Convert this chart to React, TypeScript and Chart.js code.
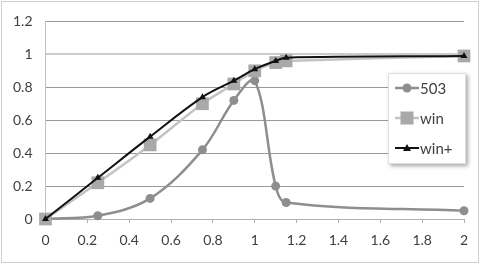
import React, { useEffect, useRef } from "react";
import { Chart, registerables } from "chart.js";

Chart.register(...registerables);

const xValues = [0, 0.25, 0.5, 0.75, 0.9, 1, 1.1, 1.15, 2];
const series503 = [0, 0.02, 0.125, 0.42, 0.72, 0.84, 0.2, 0.1, 0.05];
const seriesWin = [0, 0.22, 0.45, 0.7, 0.82, 0.9, 0.95, 0.96, 0.99];
const seriesWinPlus = [0, 0.25, 0.5, 0.74, 0.84, 0.91, 0.96, 0.98, 0.99];
const seriesNames = ["503", "win", "win+"];

const FONT = "Lato, 'Open Sans', sans-serif";

const toPoints = (ys: number[]) => xValues.map((x, i) => ({ x, y: ys[i] }));

const styles = [
  { line: "#8e8e8e", fill: "#8e8e8e", point: "circle", radius: 4.5, width: 2.5 },
  { line: "#c4c4c4", fill: "#a9a9a9", point: "rect", radius: 9, width: 2.5 },
  { line: "#111111", fill: "#111111", point: "triangle", radius: 4, width: 2 },
];

const framePlugin = {
  id: "frame",
  beforeDraw(chart: any) {
    const ctx = chart.ctx;
    ctx.save();
    ctx.fillStyle = "#ffffff";
    ctx.fillRect(0, 0, chart.width, chart.height);
    ctx.strokeStyle = "#d0d0d0";
    ctx.lineWidth = 1;
    ctx.strokeRect(1.5, 1.5, chart.width - 4, chart.height - 4);
    ctx.restore();
  },
};

const legendPlugin = {
  id: "customLegend",
  afterDraw(chart: any) {
    const ctx = chart.ctx;
    const bx = 388, by = 73, bw = 78, bh = 91;
    ctx.save();
    ctx.shadowColor = "rgba(0,0,0,0.35)";
    ctx.shadowBlur = 4;
    ctx.shadowOffsetX = 2;
    ctx.shadowOffsetY = 2;
    ctx.fillStyle = "#ffffff";
    ctx.fillRect(bx, by, bw, bh);
    ctx.restore();
    ctx.save();
    ctx.strokeStyle = "#e0e0e0";
    ctx.lineWidth = 1;
    ctx.strokeRect(bx + 0.5, by + 0.5, bw - 1, bh - 1);
    const rows = [88, 118, 148];
    seriesNames.forEach((name, i) => {
      const st = styles[i];
      const y = rows[i];
      ctx.strokeStyle = st.line;
      ctx.lineWidth = st.width;
      ctx.beginPath();
      ctx.moveTo(395, y);
      ctx.lineTo(419, y);
      ctx.stroke();
      ctx.fillStyle = st.fill;
      const cx = 407;
      if (st.point === "circle") {
        ctx.beginPath();
        ctx.arc(cx, y, 4.5, 0, Math.PI * 2);
        ctx.fill();
      } else if (st.point === "rect") {
        ctx.fillRect(cx - 6.5, y - 6.5, 13, 13);
      } else {
        ctx.beginPath();
        ctx.moveTo(cx, y - 4);
        ctx.lineTo(cx + 4, y + 3);
        ctx.lineTo(cx - 4, y + 3);
        ctx.closePath();
        ctx.fill();
      }
      ctx.fillStyle = "#404040";
      ctx.font = `15px ${FONT}`;
      ctx.textBaseline = "middle";
      ctx.textAlign = "left";
      ctx.fillText(name, 420, y + 1);
    });
    ctx.restore();
  },
};

const fmt = (v: any) => {
  const n = Number(Number(v).toFixed(1));
  return String(n);
};

export default function App() {
  const ref = useRef<HTMLCanvasElement>(null);
  useEffect(() => {
    document.body.style.margin = "0";
    const all = [series503, seriesWin, seriesWinPlus];
    const chart = new Chart(ref.current as HTMLCanvasElement, {
      type: "scatter",
      data: {
        datasets: all.map((ys, i) => ({
          label: seriesNames[i],
          data: toPoints(ys),
          showLine: true,
          borderColor: styles[i].line,
          borderWidth: styles[i].width,
          backgroundColor: styles[i].fill,
          pointBackgroundColor: styles[i].fill,
          pointBorderColor: styles[i].fill,
          pointBorderWidth: 0,
          pointStyle: styles[i].point as any,
          pointRadius: styles[i].radius,
          tension: 0.35,
          clip: false as any,
          order: 3 - i,
        })),
      },
      options: {
        animation: false,
        responsive: false,
        events: [],
        layout: { padding: { left: 0, right: 17, top: 15, bottom: 0 } },
        plugins: { legend: { display: false }, tooltip: { enabled: false } },
        scales: {
          x: {
            type: "linear",
            min: 0,
            max: 2,
            afterFit: (s: any) => { s.height = 46; },
            border: { display: true, color: "#b0b0b0", width: 1 },
            grid: { drawOnChartArea: false, drawTicks: true, tickLength: 4, color: "#b0b0b0" },
            ticks: { stepSize: 0.2, padding: 9, color: "#404040", font: { family: FONT, size: 14 }, callback: fmt, maxRotation: 0, autoSkip: false },
          },
          y: {
            type: "linear",
            min: 0,
            max: 1.2,
            afterFit: (s: any) => { s.width = 45.5; },
            border: { display: true, color: "#c0c0c0", width: 1 },
            grid: {
              drawTicks: false,
              color: (c: any) => (Math.abs(c.tick.value - 1) < 1e-6 ? "#cbcbcb" : "#9a9a9a"),
              lineWidth: (c: any) => (Math.abs(c.tick.value - 1) < 1e-6 ? 2 : 1),
            },
            ticks: { stepSize: 0.2, padding: 13, color: "#404040", font: { family: FONT, size: 14 }, callback: fmt },
          },
        },
      },
      plugins: [framePlugin, legendPlugin],
    });
    return () => chart.destroy();
  }, []);
  return (
    <div style={{ width: 481, height: 265 }}>
      <canvas ref={ref} width={481} height={265} />
    </div>
  );
}
